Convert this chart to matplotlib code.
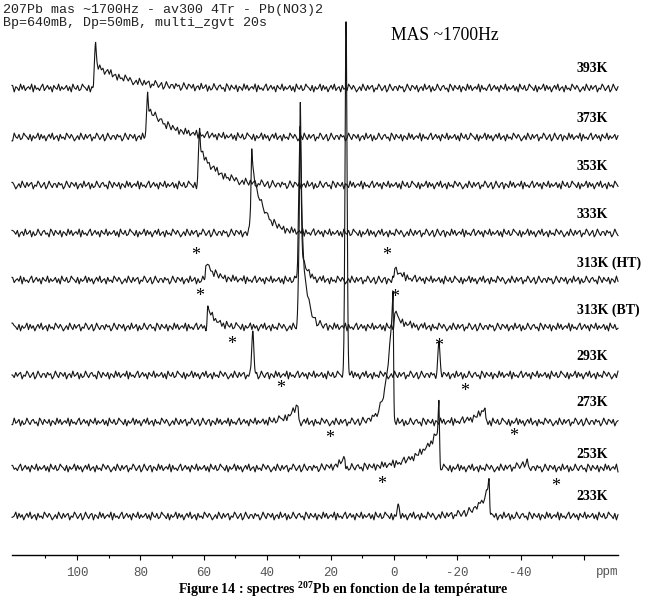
#!/usr/bin/env python3
"""
Stacked 207Pb MAS NMR spectra of Pb(NO3)2 versus temperature.
Saves out.png (649x600).
"""

import numpy as np
import matplotlib
matplotlib.use("Agg")
import matplotlib.pyplot as plt

plt.rcParams['font.family'] = ['Liberation Serif', 'DejaVu Serif']
plt.rcParams['mathtext.fontset'] = 'custom'
plt.rcParams['mathtext.rm'] = 'Liberation Serif:bold'
plt.rcParams['mathtext.bf'] = 'Liberation Serif:bold'

# Spectra, top to bottom
temps = ['393K', '373K', '353K', '333K', '313K (HT)', '313K (BT)',
         '293K', '273K', '253K', '233K']

# narrow lines: position (ppm), height, half width (ppm)
spike_ppm = [[94.3], [77.9], [61.5], [45.1], [29.7], [29.7],
             [15.1, 44.5, -14.2], [], [-14.2], [-30.0, -1.3]]
spike_height = [[34], [25], [39], [28], [125], [109],
                [355, 45, 30], [], [27], [11, 11]]
spike_width = [[0.35], [0.35], [0.35], [0.4], [0.5], [0.5],
               [0.45, 0.45, 0.5], [], [0.3], [0.3, 0.4]]

# anisotropic bands: edge (ppm), height, tail length (ppm, >0 tail to low ppm)
band_ppm = [[94.0], [77.6], [61.2], [44.8], [29.5, 59.3, -0.3],
            [29.5, 58.7, -0.3], [], [0.3, 30.3, -28.7],
            [-14.2, 15.5, -42.0], [-30.0]]
band_height = [[23], [30], [35], [68], [40, 17, 12],
               [130, 19, 14], [], [130, 17, 14],
               [38, 10, 7], [28]]
band_tail = [[10.0], [6.5], [5.8], [3.6], [1.5, 3.0, 2.5],
             [1.6, 2.5, 2.5], [], [-1.9, -3.0, -3.0],
             [-6.5, -2.0, -2.0], [-3.5]]

ripple = [1, -2, 0, 3, -1, -3, 2, 0, -2, 1, 3, -1, 0, -3, 2, 1, -1, 2, -2, 0,
          3, -2, 1, -1, -3, 0, 2, -1, 1, 3, -2, 0, -1, 2, -3, 1, 0, -2, 3, -1,
          2, 0, -3, 1, -1, 2, -2, 3, 0, -1, 1, -3, 2, -2, 0, 1, 3, -1, -2, 2,
          -1, 0, 3, -3, 1, -2, 2, 0, -1, 1, -2, 3, -1, 0, 2, -3, 1, -1, 2, 0,
          -2, 3, 1, -2, 0, -1, 2, -3, 3, -1, 1, 0, -2, 2, -1, 3, -2, 0, 1, -3,
          2, -1, 0, 2, -2, 1, 3, -3, 0, -1, 2, 1, -2, 0, 3, -1, -2, 1, -3, 2,
          0, -1, 3, -2, 1, 0, -3, 2, -1, 1, 2, -2, 0, 3, -1, -3, 1, 0, 2, -2, 1]

# asterisks marking spinning sidebands (ppm, pixel row of centre)
star_ppm = [62.5, 2.2, 61.2, -0.3, 51.1, -14.2, 35.6, -22.4, 20.2, -37.9, 3.8, -51.1]
star_row = [251, 251, 292, 293, 340, 342, 384, 387, 434, 432, 480, 482]

# layout (pixel rows of each baseline and label)
baseline_row = [88, 137, 185, 233, 280, 327, 375, 422, 468, 516]
label_row = [69, 118, 167, 215, 263, 310, 357, 403, 454, 497]

W, H = 649, 600
AXIS_ROW = 555
PPM_LEFT, PPM_RIGHT = 120.5, -70.7


def band(x, pos, amp, tail, edge=0.25):
    d = (pos - x) if tail > 0 else (x - pos)
    out = np.where(d >= 0, amp * np.exp(-np.abs(d) / abs(tail)),
                   amp * np.exp(-(d / edge) ** 2))
    return out


fig = plt.figure(figsize=(W / 100, H / 100), dpi=100)
ax = fig.add_axes([12 / W, (H - AXIS_ROW) / H, 606 / W, AXIS_ROW / H])
ax.set_xlim(PPM_LEFT, PPM_RIGHT)
ax.set_ylim(0, AXIS_ROW)

x_coarse = np.arange(PPM_RIGHT, PPM_LEFT + 0.01, 0.5)
x = np.arange(PPM_RIGHT, PPM_LEFT + 0.01, 0.05)

for i, t in enumerate(temps):
    y = np.zeros_like(x)
    for p, h, w in zip(spike_ppm[i], spike_height[i], spike_width[i]):
        y += h * np.exp(-((x - p) / w) ** 2)
    for p, h, L in zip(band_ppm[i], band_height[i], band_tail[i]):
        y += band(x, p, h, L)
    noise = np.roll(np.resize(np.array(ripple, float), x_coarse.size), 37 * i)
    y += 1.3 * np.interp(x, x_coarse, noise)
    ax.plot(x, AXIS_ROW - baseline_row[i] + y, color='#151515', lw=0.8,
            clip_on=False)
    ax.text(-57.7, AXIS_ROW - label_row[i], t, fontsize=10, fontweight='bold',
            ha='left', va='center')

for p, r in zip(star_ppm, star_row):
    ax.text(p, AXIS_ROW - r - 9, '*', fontsize=13, ha='center', va='baseline')

# axis
for s in ['top', 'left', 'right']:
    ax.spines[s].set_visible(False)
ax.spines['bottom'].set_linewidth(1.0)
ax.set_yticks([])
ax.set_xticks([100, 80, 60, 40, 20, 0, -20, -40, -60])
ax.set_xticklabels(['100', '80', '60', '40', '20', '0', '-20', '-40', ''])
ax.set_xticks(np.arange(110, -60, -20), minor=True)
ax.tick_params(axis='x', which='major', direction='out', length=3.6, width=0.8,
               pad=5, labelsize=9, labelcolor='#555555', labelfontfamily='Liberation Mono')
ax.tick_params(axis='x', which='minor', direction='out', length=2, width=0.8)
fig.text(607 / W, 1 - 572 / H, 'ppm', fontsize=9, color='#555555',
         family='Liberation Mono', ha='center', va='center')

# header / annotations
fig.text(3 / W, 1 - 10 / H, '207Pb mas ~1700Hz - av300 4Tr - Pb(NO3)2',
         family='Liberation Mono', fontsize=9.6, color='#222222', va='center')
fig.text(3 / W, 1 - 23 / H, 'Bp=640mB, Dp=50mB, multi_zgvt 20s',
         family='Liberation Mono', fontsize=9.6, color='#222222', va='center')
fig.text(391 / W, 1 - 35 / H, 'MAS ~1700Hz', fontsize=12.7, va='center')
fig.text(343 / W, 1 - 589 / H,
         'Figure 14 : spectres $^{207}$Pb en fonction de la temp\u00e9rature',
         fontsize=10, fontweight='bold', ha='center', va='center')

fig.savefig('out.png', dpi=100)
